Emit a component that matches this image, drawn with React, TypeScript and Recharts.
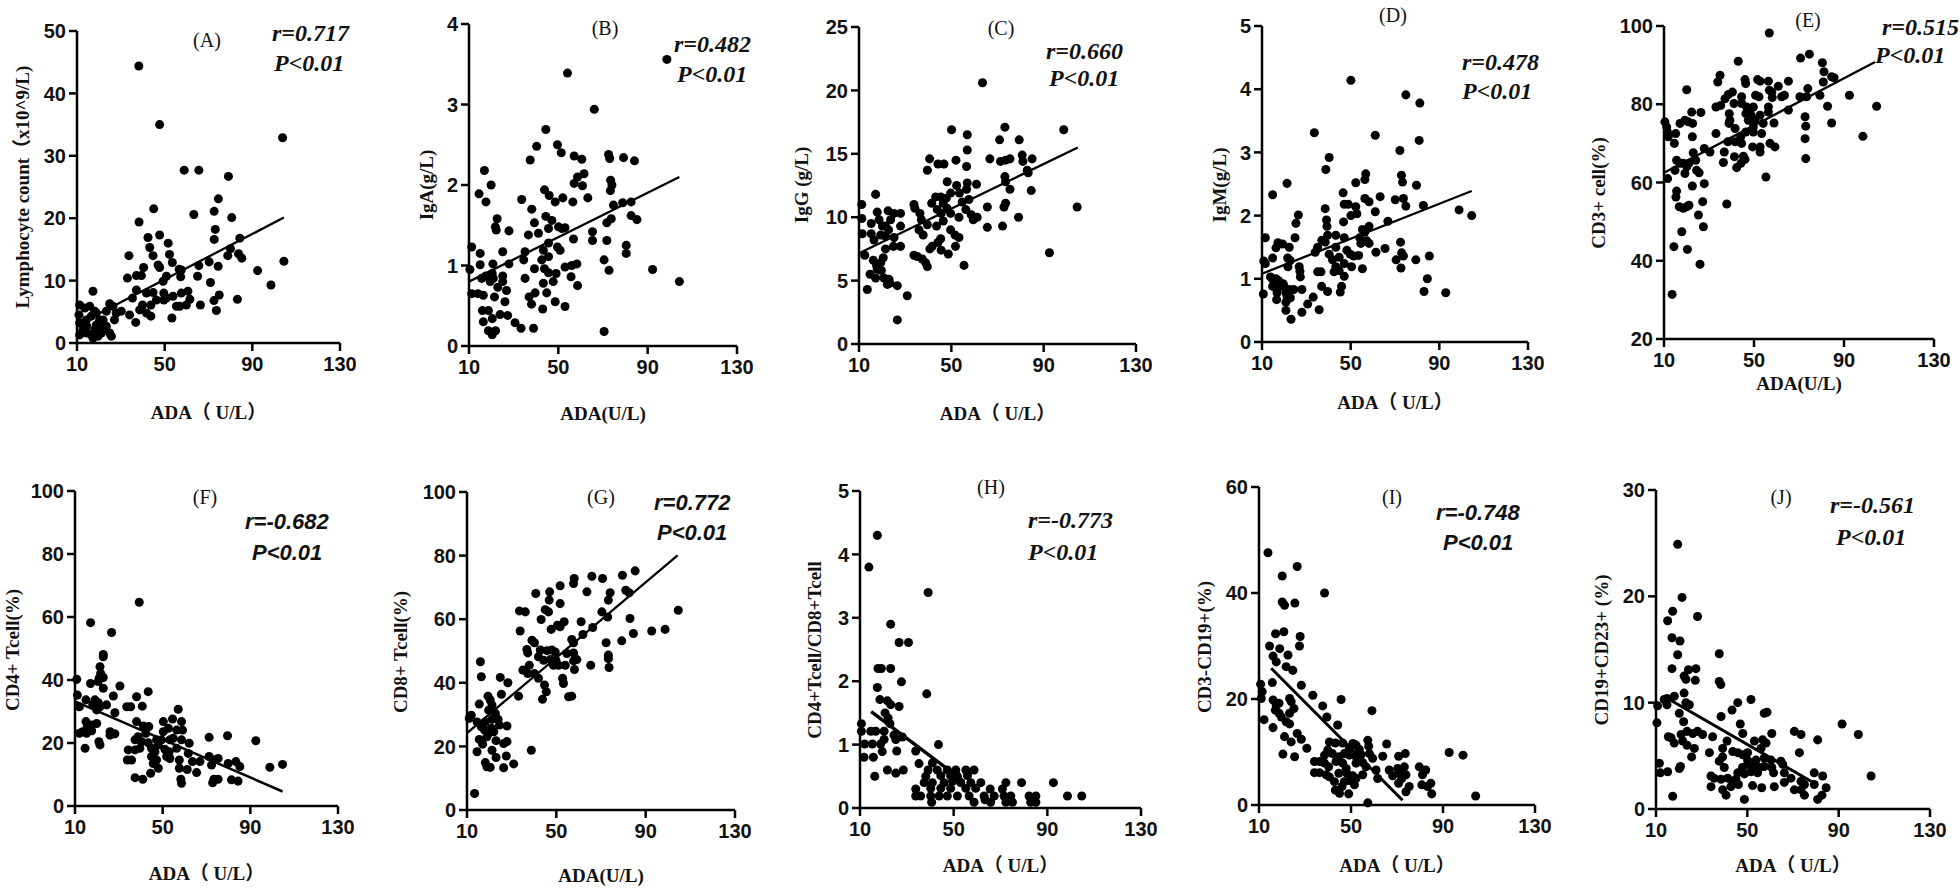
import { ScatterChart, Scatter, XAxis, YAxis, ZAxis, ReferenceLine } from 'recharts';

type Pt = [number, number];

const adaTicks = [10, 50, 90, 130];

// (A) lymphocyte count vs ADA
const lymphocyte: Pt[] = [
  [38.2, 44.4], [47.7, 35], [103.8, 32.9], [58.9, 27.7], [65.6, 27.7], [79.1, 26.7], [74.5, 23.1], [45, 21.5],
  [63.3, 20.6], [72.6, 21.1], [80.6, 20.1], [38.3, 19.4], [73.1, 18.2], [47.7, 17.3], [42.4, 16.9], [72.6, 16.6],
  [84.3, 16.8], [51.6, 16], [43.2, 15.3], [80, 15.1], [33.7, 14], [44.7, 14], [52.2, 14.2], [47, 12.5], [47.7, 12.1],
  [40.4, 12.1], [53.5, 12.9], [56.6, 11.8], [57.3, 10.6], [57.6, 11.7], [65.6, 12.4], [65, 10.7], [74.4, 12.3],
  [70.3, 13], [78.8, 14], [83.7, 14.3], [85.2, 13.6], [92.4, 11.6], [104.4, 13.1], [98.5, 9.3], [70.9, 9.7],
  [74.9, 7.7], [72.5, 6.8], [73.6, 5.2], [83.2, 7], [66.3, 6.1], [61.5, 7], [33, 10.4], [37.1, 10.8], [39.4, 10.8],
  [37.1, 8.5], [35.3, 7.2], [41.7, 8], [44.7, 8.1], [46.2, 6.9], [49.6, 8], [50.8, 7.2], [53.8, 7.5], [57.6, 8],
  [60.6, 8.3], [39.9, 6.1], [43.7, 6.1], [49.6, 6.9], [55.4, 5.9], [56.9, 5.9], [59.9, 6.1], [49.3, 9.9], [50.8, 10.7],
  [34, 4.5], [38.6, 5.3], [41.7, 4.8], [43.7, 4.3], [53.3, 4], [36.8, 3.3], [26.4, 5.9], [27.9, 4.8], [30.2, 5.1],
  [24.9, 6.3], [23.4, 5.1], [27.1, 3.7], [20.3, 3.7], [18.8, 2.9], [21.9, 2.4], [24.9, 1.6], [25.7, 1.1], [17.3, 0.8],
  [11.2, 6.1], [10.9, 4.5], [13.5, 5.6], [15.8, 5.9], [17.3, 8.3], [18.1, 5.1], [14.3, 3.7], [16.5, 4.3], [18.8, 4.8],
  [20.3, 2.4], [12.7, 2.1], [14.3, 1.6], [11.2, 1.3], [14.5, 2.7], [18.1, 2.1], [21.9, 3.7], [23.4, 2.7], [21.1, 1.6],
  [19.6, 1.1], [11.2, 3.2], [16.5, 1.3],
];
const lymphocyteFit: Pt[] = [[10, 2.9], [104.4, 20.1]];
const lymphocyteTicks = [0, 10, 20, 30, 40, 50];

// (B) IgA
const igA: Pt[] = [
  [98.6, 3.56], [54.1, 3.39], [66.1, 2.94], [44.4, 2.69], [40.3, 2.48], [49.6, 2.5], [37.4, 2.31], [51.3, 2.4],
  [57.1, 2.36], [60.5, 2.32], [72.5, 2.38], [73, 2.33], [79.2, 2.34], [84.1, 2.3], [16.9, 2.18], [19.9, 2],
  [14.5, 1.89], [17.6, 1.79], [33.6, 1.82], [43.8, 1.94], [45.9, 1.87], [52, 1.84], [57.1, 2.02], [58.6, 2.1],
  [61.5, 2.14], [60.8, 1.99], [63.2, 1.84], [56.5, 1.79], [73.4, 2.06], [74, 2], [73.3, 1.93], [74.7, 1.75],
  [78.8, 1.78], [82.6, 1.79], [82.6, 1.62], [85.2, 1.57], [73.7, 1.58], [71.7, 1.53], [65.3, 1.42], [65.3, 1.31],
  [71.7, 1.31], [80.4, 1.25], [80.4, 1.15], [70.5, 1.07], [72.7, 0.94], [92.2, 0.95], [104.2, 0.8], [70.5, 0.18],
  [22.6, 1.58], [22.2, 1.44], [21.8, 1.48], [27.9, 1.43], [38.1, 1.7], [39.3, 1.53], [36.6, 1.38], [41.1, 1.4],
  [44.4, 1.61], [45.6, 1.46], [47.1, 1.56], [48.6, 1.79], [50.1, 1.48], [51.6, 1.46], [53, 1.47], [56.8, 1.33],
  [45.6, 1.28], [49.6, 1.23], [50.8, 1.19], [43.3, 1.19], [45.6, 1.11], [42.6, 1.07], [34.5, 1.07], [35.1, 1.17],
  [39.3, 0.96], [35.1, 0.84], [43.8, 0.96], [45.6, 0.91], [49, 0.9], [47.7, 0.8], [43.3, 0.78], [53, 0.98], [56, 1],
  [58.3, 1.02], [55.7, 0.86], [58.6, 0.75], [36.9, 0.61], [39.6, 0.66], [38, 0.52], [44.8, 0.66], [43, 0.46],
  [48.6, 0.55], [53, 0.49], [38.9, 0.22], [33.3, 0.22], [30.6, 0.29], [27.3, 0.38], [23.9, 0.39], [26.1, 0.55],
  [26.8, 0.69], [25.1, 0.8], [25.1, 0.87], [25.1, 1.17], [27.9, 1.02], [11.2, 1.23], [10.4, 0.95], [11.2, 0.65],
  [14, 0.65], [15, 1.15], [15, 1.01], [15.7, 0.84], [17.5, 0.87], [20.7, 1.02], [20.4, 0.9], [19.5, 0.8], [16.4, 0.63],
  [21.4, 0.61], [16, 0.44], [18.7, 0.44], [16.4, 0.3], [20.4, 0.34], [21.9, 0.19], [20.4, 0.14], [18.7, 0.19],
  [22.9, 0.73], [20.9, 0.84],
];
const igAFit: Pt[] = [[10, 0.8], [104.2, 2.1]];
const igATicks = [0, 1, 2, 3, 4];

// (C) IgG
const igG: Pt[] = [
  [63.5, 20.6], [98.7, 16.9], [50.1, 16.9], [56.9, 16.5], [73.2, 17.1], [70.9, 16.1], [79.4, 16.1], [56.9, 15.3],
  [40.6, 14.6], [39.6, 13.7], [44.2, 14.2], [46.8, 14.2], [52, 14.5], [56.6, 14], [66.7, 14.6], [71.3, 14.4],
  [73.5, 14.5], [75.4, 14.6], [80.7, 14.9], [81, 14.4], [85, 14.6], [82.9, 13.7], [83.3, 13.5], [73.2, 13.2],
  [73.5, 12.8], [75.4, 12.2], [84.6, 12.1], [56.9, 12.7], [60.9, 12.6], [56.6, 12.2], [48.2, 12.8], [52.3, 12.5],
  [53.5, 11.9], [49.7, 11.9], [54.7, 11.2], [57.6, 11.4], [47.8, 11.5], [45.4, 11.6], [43.2, 11.6], [41.5, 11.1],
  [46.5, 11.1], [48.2, 10.7], [43.9, 10.6], [45.6, 10.3], [49.7, 10.3], [53.3, 10], [56.3, 10.6], [58.6, 10.2],
  [59.5, 9.8], [61.2, 10], [65.6, 10.8], [72.8, 10.8], [73.5, 11.1], [79.1, 10], [65.6, 9.2], [72.2, 9.3],
  [92.5, 7.2], [104.5, 10.8], [46.5, 9.7], [49.7, 9], [43.6, 9.3], [39.6, 9.4], [37, 9.8], [36.4, 10.3], [33.8, 11],
  [34.2, 10.7], [36, 9], [37.8, 8.6], [51.6, 8.6], [53.3, 8.4], [51.8, 7.7], [45.4, 8.3], [44.2, 8], [41.7, 7.7],
  [40.7, 7.5], [45.6, 7.4], [48.7, 7.1], [55.5, 6.2], [33.8, 7], [35.2, 6.9], [37.4, 6.7], [38.9, 6.4], [39.6, 6.1],
  [28, 7.7], [24.9, 7.7], [25.2, 8.4], [28, 9.3], [25.2, 10.3], [28, 10.3], [22.6, 10.5], [23.7, 9.8], [21.5, 9.3],
  [22.8, 9], [20.1, 9.3], [18.7, 9.8], [17.9, 10.4], [17.2, 11.8], [15.3, 9.5], [15.3, 8.7], [16.5, 8.2], [19.4, 8.6],
  [21.5, 8.5], [11.2, 11], [11.2, 9.9], [11.4, 8.7], [12.5, 7], [14.8, 5.5], [13.6, 4.3], [17.2, 5.2], [16.2, 6.6],
  [17.6, 6.2], [19.4, 6.4], [20.5, 6.8], [19.7, 5.8], [17.9, 5.9], [20.8, 5.2], [23, 5.1], [23.4, 4.8], [22.3, 4.7],
  [26.6, 4.6], [30.9, 3.8], [26.6, 1.9], [21.5, 7.5],
];
const igGFit: Pt[] = [[10, 7.15], [104.8, 15.5]];
const igGTicks = [0, 5, 10, 15, 20, 25];

// (D) IgM
const igM: Pt[] = [
  [50.1, 4.14], [74.9, 3.91], [81.2, 3.78], [33.6, 3.31], [61.1, 3.27], [80.9, 3.19], [72.2, 3.03], [40.3, 2.92],
  [38.8, 2.73], [56.8, 2.66], [72.9, 2.64], [73.4, 2.53], [52.3, 2.52], [56.4, 2.57], [79.7, 2.48], [21.3, 2.51],
  [14.8, 2.33], [46.6, 2.36], [63.3, 2.3], [56.4, 2.27], [58.3, 2.22], [70.1, 2.25], [73.8, 2.27], [74.9, 2.15],
  [82.8, 2.16], [47.1, 2.18], [48.9, 2.18], [52.3, 2.14], [38.5, 2.11], [26.4, 2.01], [50.1, 2], [52.8, 2.03],
  [61.1, 2.06], [98.9, 2.09], [104.6, 2], [39.1, 1.93], [39.3, 1.83], [46.8, 1.9], [66.8, 1.91], [25.3, 1.88],
  [58.3, 1.83], [55.3, 1.78], [56.4, 1.74], [54.1, 1.65], [24.9, 1.65], [11.5, 1.65], [39.6, 1.69], [43.3, 1.69],
  [47.1, 1.65], [57.3, 1.6], [58.3, 1.56], [54.6, 1.56], [72.5, 1.58], [37, 1.61], [38.5, 1.58], [17.2, 1.57],
  [19.3, 1.55], [16.3, 1.49], [22.3, 1.5], [35.1, 1.5], [34, 1.42], [40.3, 1.39], [43.3, 1.5], [44.8, 1.34],
  [48.3, 1.45], [49.8, 1.39], [51.4, 1.36], [53.6, 1.37], [61.4, 1.42], [65.5, 1.48], [73, 1.41], [73.8, 1.36],
  [70.5, 1.3], [79.4, 1.3], [85.5, 1.36], [72.7, 1.17], [55.3, 1.16], [41.8, 1.3], [43.3, 1.19], [44.8, 1.13],
  [47.1, 1.24], [47.1, 1.04], [50.4, 1.19], [42.5, 1.11], [10.8, 1.28], [11.5, 1.24], [14.8, 1.33], [21.6, 1.33],
  [22.7, 1.29], [21.7, 1.19], [26.8, 1.19], [27.1, 1.12], [27.3, 1.03], [35.1, 1.11], [36.6, 1.11], [13.8, 1.03],
  [14.8, 0.99], [16.3, 1], [17.5, 0.97], [15.6, 0.92], [14.8, 0.88], [17.1, 0.86], [19.6, 0.92], [20.1, 0.87],
  [16.8, 0.78], [16.6, 0.67], [20.8, 0.78], [22.3, 0.83], [24.3, 0.83], [22.8, 0.7], [20.8, 0.63], [21.3, 0.72],
  [20.8, 0.5], [23.1, 0.36], [28, 0.83], [28, 0.47], [30.6, 0.6], [33.1, 0.71], [35.8, 0.51], [36.9, 0.88],
  [39.6, 0.8], [45.3, 0.79], [45.9, 0.88], [10.6, 0.76], [83.1, 0.8], [84.6, 1], [92.9, 0.78],
];
const igMFit: Pt[] = [[10, 1.08], [104.6, 2.39]];
const igMTicks = [0, 1, 2, 3, 4, 5];

// (E) CD3+ cell
const cd3: Pt[] = [
  [56.8, 98.2], [74.6, 92.8], [43, 91], [70.7, 91.8], [80.4, 90.6], [81.1, 88.3], [34.9, 87.4], [33.9, 85.7],
  [84.5, 87], [85.6, 86.8], [80.8, 85.7], [46, 86.3], [46.3, 85.3], [51.6, 86.3], [52.7, 85.9], [56.4, 85.9],
  [65.3, 85.9], [60.8, 84.6], [56.8, 83.6], [20.1, 83.7], [40.4, 83.1], [38.6, 82.5], [37.1, 81.4], [44.5, 81.9],
  [50.7, 82.3], [52.2, 81.9], [57.9, 83.1], [58.1, 81.7], [62.3, 81.9], [63.5, 82.3], [73.9, 84], [73.4, 81.9],
  [70.4, 81.9], [79.3, 82.3], [33.1, 79.3], [35.2, 79.7], [41.1, 80.2], [44.5, 80.2], [46.7, 79.3], [49.7, 79.3],
  [56.4, 79.3], [65.3, 78.5], [82.7, 79.5], [104.5, 79.5], [92.4, 82.3], [48.2, 78.5], [46.4, 77.6], [48.7, 77.2],
  [52.7, 77.2], [56.4, 78], [39, 77.6], [39.3, 75.9], [38.9, 75.1], [47.5, 75.9], [50.4, 75.9], [49.7, 74.2],
  [54.1, 75.1], [58.9, 75.2], [72.7, 76.8], [73, 74.4], [72.7, 71.2], [73, 66.1], [84.5, 75.2], [98.4, 71.8],
  [46.4, 72.9], [49.7, 72.9], [53.4, 72.5], [41.6, 73.8], [44.1, 71.7], [44.5, 70], [41.6, 70.4], [38.4, 70.4],
  [33.1, 72.5], [49.4, 69.1], [52.7, 67.8], [52.7, 69.1], [57.1, 70], [59.3, 69.1], [36.8, 67.8], [36.4, 65.1],
  [41.3, 66.6], [45.3, 66.7], [46, 65.9], [44.2, 64.9], [42.3, 63.8], [55.3, 61.4], [37.9, 54.5], [10.4, 75.5],
  [11.2, 74.2], [11.9, 71.7], [11.5, 73], [11.6, 61], [15.2, 72.5], [14.6, 70], [17.1, 75.1], [19.3, 75.9],
  [20.8, 75.5], [22.3, 78], [22.7, 75.1], [22.6, 71.7], [26.4, 77.9], [15.6, 65.7], [17.1, 64.9], [14.9, 63.1],
  [18.6, 64.9], [20.1, 64], [19.3, 62.3], [21.1, 64.9], [23, 67.6], [24.1, 65.7], [24.5, 63.1], [25.6, 62.5],
  [27.9, 68.7], [30.4, 67.8], [22.6, 59.1], [27.9, 59.7], [15.6, 57.8], [15.3, 56.3], [16.8, 53.8], [18.6, 53.4],
  [20.1, 53.8], [21.1, 54.2], [25.3, 51.7], [27.2, 55.1], [27.5, 48.7], [17.9, 47.4], [14.4, 43.6], [20.4, 42.9],
  [26, 39.1], [13.6, 31.4],
];
const cd3Fit: Pt[] = [[10, 62.5], [103.8, 90.8]];
const cd3Ticks = [20, 40, 60, 80, 100];

// (F) CD4+ T cell
const cd4: Pt[] = [
  [39.3, 64.7], [17.1, 58.2], [26.7, 55.1], [22.9, 48.1], [22.9, 47.4], [21.4, 44.2], [21.7, 42.1], [21, 40.5],
  [22.9, 40.8], [20.6, 39.5], [10.8, 40.2], [17.1, 38.9], [22.9, 37.4], [30.5, 38.1], [43.4, 36.3], [38.1, 34.7],
  [27.5, 34.9], [11.1, 35.2], [12, 31.5], [15, 33.7], [19.1, 33.7], [20.6, 32.8], [21.4, 31.5], [24.4, 32.1],
  [18.1, 32.1], [19.9, 30.5], [28.2, 29.6], [33.6, 31.5], [35.4, 31.5], [40.7, 31.7], [15, 26.8], [15.6, 25.2],
  [17.6, 25.7], [13.5, 23.6], [12, 23.1], [15.3, 23.1], [17.6, 23.9], [19.9, 26.2], [26, 23.6], [26, 22.5],
  [28.2, 22.9], [14.6, 18.3], [20.9, 20.4], [21.4, 19.4], [38.1, 26.8], [41.2, 25.4], [43.7, 25.2], [38.8, 22],
  [37.4, 21], [40.4, 20.4], [42.3, 23.1], [34.3, 17.8], [33.9, 14.6], [35.8, 14.6], [37.4, 17.8], [39.6, 18.3],
  [43.4, 20.1], [44.9, 18.3], [47.2, 21], [48, 19.4], [49.5, 21], [50.3, 23.6], [50.3, 26.8], [51, 18], [53.3, 21],
  [54.8, 21.5], [52.6, 24.7], [54.5, 27.6], [56.4, 24.1], [57.1, 30.7], [58.6, 26.8], [59.1, 24.1], [58.6, 21],
  [56.4, 18.3], [53, 17.2], [46.5, 17.2], [44.9, 15.7], [47.2, 14.6], [45.7, 13.5], [48, 12], [44.5, 10.4],
  [37.4, 9], [40.9, 8.5], [57.6, 12], [57.6, 14.6], [61.2, 11.6], [61.7, 16.7], [62.1, 19.9], [58.3, 8.5],
  [58.6, 7.2], [63.6, 14.1], [65.5, 10.6], [67, 14.1], [71.2, 21.8], [71.2, 15.7], [73.1, 14.6], [72.3, 13],
  [75.3, 15.1], [73.4, 8.5], [72.8, 7.4], [75.3, 8.5], [79.6, 22.3], [79.9, 13.5], [83.4, 14.1], [85.2, 12.5],
  [81.4, 8.3], [84.4, 7.9], [92.5, 20.7], [98.9, 12.3], [104.7, 13.2], [51.8, 15.7], [53.3, 15.1],
];
const cd4Fit: Pt[] = [[10, 33.2], [104.7, 4.6]];
const percentTicks = [0, 20, 40, 60, 80, 100];

// (G) CD8+ T cell
const cd8: Pt[] = [
  [85.3, 75.2], [79.6, 73.8], [65.9, 73.5], [70.7, 72.8], [58, 72.8], [57.7, 71.2], [51.7, 70.5], [40.8, 68.1],
  [47, 68.6], [63.7, 68.6], [74.1, 68.3], [81.1, 69.1], [82.6, 68.3], [73.3, 66], [46.8, 66], [51.7, 64.9],
  [45, 63], [46.5, 62.3], [70.4, 62.3], [73, 60.7], [33.5, 62.6], [36.1, 62.3], [43.2, 59.9], [61.1, 59.2],
  [53.5, 59.2], [50.5, 58.1], [47.7, 56.8], [51.7, 57.6], [33.8, 56.3], [61.9, 55.2], [83, 60.2], [104.6, 62.8],
  [92.7, 56.3], [98.7, 56.8], [84.5, 55.5], [79.3, 53.2], [72.3, 52.6], [66.3, 57.4], [56.9, 53.6], [57.7, 52.6],
  [39.1, 53.4], [40.2, 52.6], [36.8, 50.5], [37.2, 49.4], [42.8, 50.3], [45.8, 50.1], [48, 50.3], [49.5, 49.7],
  [54.7, 49.2], [57.7, 49.4], [42, 48.2], [44.3, 47.1], [47.3, 47.3], [49.8, 47.1], [51, 45.5], [48.7, 45.5],
  [54, 45.5], [57.7, 46.9], [59.2, 47.3], [58.1, 44.2], [65.4, 45.5], [73.3, 48.7], [73.3, 47.6], [73.6, 44.8],
  [35, 44], [37.9, 45.5], [37.2, 42.9], [40.2, 42.9], [42, 41.4], [44.7, 39.3], [45.5, 37.2], [43.8, 34.8],
  [52.8, 41.4], [53.2, 39.8], [55.5, 35.6], [56.9, 35.8], [33.1, 35.8], [28.3, 40], [24.9, 41.7], [25.4, 36.4],
  [16, 46.6], [16.4, 41.9], [15.5, 33.3], [19.4, 35.8], [20.4, 34.6], [21.2, 33], [19.7, 31.4], [22.7, 30.4],
  [11.9, 29.8], [11, 28.8], [14.5, 27.7], [18.2, 27.7], [21.2, 28.5], [23.9, 28.5], [24.5, 26.7], [27.9, 26.4],
  [16.4, 26.2], [17.9, 25.1], [20.9, 25.7], [22, 24.6], [19.7, 24.1], [18.9, 23], [15.5, 22.2], [17, 20.7],
  [23, 21.8], [26.4, 20.9], [27.9, 21.5], [21.2, 18.8], [14.5, 18.3], [38.8, 18.8], [23, 16.5], [27.6, 17],
  [30.9, 14.5], [18.2, 14.9], [18.9, 13.6], [20.4, 13.4], [26.4, 13.3], [13.4, 5.2],
];
const cd8Fit: Pt[] = [[10, 24.2], [104.3, 80.1]];

// (H) CD4+/CD8+ ratio
const ratio: Pt[] = [
  [17.4, 4.3], [13.8, 3.8], [39.1, 3.4], [23.1, 2.9], [26.7, 2.61], [30.7, 2.61], [27.7, 1.99], [38.5, 1.8],
  [17.7, 2.2], [19.1, 2.2], [23.1, 2.2], [17.4, 1.9], [18.5, 1.71], [21.7, 1.69], [23.1, 1.63], [26.7, 1.6],
  [20.7, 1.5], [22, 1.42], [22.8, 1.33], [20.3, 1.21], [16.7, 1.21], [14.6, 1.21], [10.6, 1.33], [10.6, 1.21],
  [12, 1.01], [11.7, 0.8], [15.3, 1.01], [15.7, 0.8], [18.8, 1.01], [19.5, 0.89], [20.3, 1.08], [24.5, 1.15],
  [25.7, 0.9], [28.1, 1.12], [25.3, 1.08], [21.7, 0.6], [25.3, 0.55], [28.5, 0.6], [16.3, 0.5], [33.8, 0.9],
  [43.5, 1], [35.2, 0.7], [40.9, 0.71], [39.1, 0.6], [43, 0.6], [47.3, 0.6], [50.9, 0.6], [55.2, 0.6], [58.7, 0.6],
  [44.5, 0.51], [48.7, 0.51], [51.6, 0.5], [55.9, 0.51], [38.1, 0.5], [37.4, 0.4], [40.9, 0.4], [45.9, 0.4],
  [49.5, 0.42], [53, 0.4], [57.3, 0.4], [61.6, 0.4], [72.3, 0.4], [79, 0.4], [92.6, 0.4], [40.2, 0.31], [44.5, 0.31],
  [48.7, 0.31], [55.2, 0.31], [59.4, 0.31], [65.6, 0.3], [70.8, 0.3], [33.8, 0.3], [33.8, 0.19], [35.9, 0.19],
  [40.2, 0.19], [43.8, 0.19], [47.3, 0.19], [51.6, 0.19], [56.6, 0.19], [63, 0.19], [67.3, 0.19], [71.5, 0.19],
  [74.4, 0.19], [82.2, 0.19], [85.1, 0.19], [98.6, 0.19], [104.7, 0.19], [40.6, 0.09], [58.7, 0.09], [65.8, 0.09],
  [72.3, 0.09], [75.1, 0.09], [82.9, 0.09], [85.1, 0.09], [63.4, 0.13],
];
const ratioFit: Pt[] = [[14.8, 1.52], [54.4, 0.42]];
const ratioTicks = [0, 1, 2, 3, 4, 5];

// (I) CD3-CD19+
const cd19: Pt[] = [
  [13.9, 47.6], [26.6, 45], [20.1, 43.2], [38.5, 40], [20.1, 38.3], [21.1, 37.7], [25.6, 38.1], [17.2, 32.3],
  [20.8, 32.7], [27.9, 31.8], [27.6, 30], [14.6, 30], [19, 29.5], [16.1, 28.1], [22.6, 28.3], [21.8, 26.1],
  [17.5, 27], [24.7, 25.4], [15.8, 23.1], [28.4, 22.6], [10.7, 22.8], [11.4, 21.4], [11, 20.1], [16.1, 19.8],
  [18.7, 19.2], [17.5, 18.8], [23.3, 20.1], [24, 19.5], [33.4, 20.7], [45.7, 19.9], [59.1, 17.8], [17.1, 17.9],
  [23.3, 17.3], [25.2, 18.2], [18.7, 17.3], [12.2, 16.1], [19.7, 16.6], [21.8, 15.7], [23.3, 15.3], [37.7, 18.7],
  [39.5, 16.6], [44.2, 15.1], [16.1, 14.6], [26.6, 13.5], [28.4, 12.4], [30.8, 10.7], [21.1, 12.9], [24, 11.9],
  [25.5, 9.1], [20.4, 9.6], [40.6, 11.9], [43.2, 11.7], [46.4, 11.7], [50.8, 11.6], [52.2, 11.3], [57.3, 12.2],
  [57.7, 11.1], [65.5, 11.5], [49.3, 10.7], [53.6, 10.5], [39.9, 10.4], [38.5, 9.4], [41.9, 9.7], [44.8, 9.1],
  [47.1, 9.7], [49.3, 9.4], [52.2, 9.1], [54.4, 9.5], [58, 9.7], [59.4, 8.8], [63.8, 9.2], [70.7, 9.2], [73.6, 9.7],
  [92.7, 9.9], [98.7, 9.4], [34.1, 8.2], [36.3, 8.2], [38.5, 7.9], [40.3, 7.2], [43.5, 8.2], [46.4, 7.9], [47.9, 6.9],
  [52.2, 7.9], [55.1, 8], [56.5, 7.2], [60.9, 6.6], [66.6, 6.6], [70.3, 6.9], [73.2, 7.2], [34.1, 6.1], [36.3, 6.1],
  [39.2, 5.7], [40.6, 5.3], [44.7, 6], [48.2, 6], [50.8, 5.5], [55.1, 5.7], [61.6, 5], [68.1, 5.5], [71, 6],
  [72.1, 5], [73.9, 5.7], [79.7, 7.2], [82.5, 6.6], [81.1, 5.7], [80.8, 3.8], [83.3, 3.5], [84.7, 4.1], [85.1, 2.1],
  [42.8, 4.4], [47.1, 4.4], [49.3, 4.6], [52.2, 5], [43.2, 2.8], [45, 2.2], [49, 2.1], [51.5, 3.8], [46.1, 3.5],
  [70.7, 4.1], [73.9, 2.5], [75.3, 3.5], [57.3, 0.4], [104.2, 1.7],
];
const cd19Fit: Pt[] = [[15.3, 25.8], [72.4, 0.9]];
const cd19Ticks = [0, 20, 40, 60];

// (J) CD19+CD23+
const cd23: Pt[] = [
  [19.5, 24.9], [21.4, 19.9], [17.3, 18.6], [15.1, 17.7], [28.2, 18.1], [17, 16.1], [20.5, 15.8], [19.5, 14.5],
  [37.7, 14.6], [17, 13.2], [24.2, 13.1], [27.5, 13.2], [22.3, 12.5], [23.1, 12.2], [27.2, 12.1], [37.7, 12],
  [38.4, 11.7], [22.3, 10.9], [18, 10.6], [14.8, 10.4], [13.6, 10.3], [51.6, 10.3], [10.7, 9.7], [14.8, 9.8],
  [23.1, 10], [24.6, 9.8], [20.2, 9], [45.8, 10], [57.4, 9], [58.6, 9.1], [43.3, 9.3], [38.5, 8.7], [22.1, 8.2],
  [10.4, 8.1], [46.9, 8], [91.5, 8], [15.4, 6.8], [16.6, 6.7], [21, 7], [23.6, 7.3], [26.1, 7.1], [28.2, 7.3],
  [30.4, 7], [34.8, 6.8], [48, 7.1], [60.7, 7.1], [70.6, 7.3], [73.5, 7], [98.6, 7], [80.8, 6.5], [21.7, 6.4],
  [23.6, 6], [26.8, 5.7], [18, 6.2], [41.1, 6.4], [53.1, 6.4], [56.7, 6.5], [58.2, 6.2], [56, 5.7], [39.2, 5.7],
  [43.6, 5.4], [45.8, 5.3], [48, 5.1], [50.1, 5.3], [39.2, 4.9], [33.4, 5.3], [25.6, 4.9], [37.7, 4.5], [50.1, 4.6],
  [53.8, 4.6], [57.4, 4.8], [60.4, 4.6], [64.7, 4.5], [65.5, 4.2], [72.8, 5.3], [11.5, 4.3], [11.9, 3.4],
  [15.1, 3.5], [20.2, 3.8], [20.7, 4], [39.9, 3.9], [47.9, 3.9], [50.1, 4.2], [52.3, 4], [55.3, 3.9], [57.4, 4],
  [60.7, 3.9], [45.8, 3.4], [48.7, 3.3], [51.6, 3.5], [54.5, 3.4], [61.5, 3.4], [66.2, 3.4], [79.3, 3.4],
  [104.2, 3.1], [34.1, 3.1], [35.5, 2.9], [38.5, 2.8], [41.4, 2.9], [43.6, 2.6], [45, 2.8], [66.2, 2.5], [69.1, 2.9],
  [73.5, 2.6], [83, 3.1], [34.1, 2.1], [39.2, 1.8], [42.8, 2.1], [46.1, 2.3], [52.3, 2.2], [56.3, 2], [61.8, 2.1],
  [70.6, 1.8], [73.5, 1.8], [75, 1.3], [75, 2.3], [79.3, 2.3], [84.5, 2], [82.7, 1.3], [80.8, 0.9], [17.3, 1.2],
  [40.7, 1.3], [48.7, 0.9],
];
const cd23Fit: Pt[] = [[13.4, 10.6], [79.6, 2.4]];
const cd23Ticks = [0, 10, 20, 30];

const SERIF = "'Liberation Serif', 'Times New Roman', 'Noto Sans CJK SC', serif";
const SANS = "'Liberation Sans', Arial, sans-serif";

const panels = [
  { key: 'A', data: lymphocyte, fit: lymphocyteFit, yTicks: lymphocyteTicks, rect: [77, 340, 31, 343], lineW: 2.3,
    yTitle: 'Lymphocyte count（x10^9/L)', yTitlePos: [22, 187], xTitle: 'ADA（ U/L）', xTitleY: 412,
    letterPos: [207, 40], r: 'r=0.717', rPos: [272, 33], pPos: [274, 63], annFont: 'serif' },
  { key: 'B', data: igA, fit: igAFit, yTicks: igATicks, rect: [469, 737, 24, 346], lineW: 2.3,
    yTitle: 'IgA(g/L)', yTitlePos: [426, 185], xTitle: 'ADA(U/L)', xTitleY: 413,
    letterPos: [605, 28], r: 'r=0.482', rPos: [674, 44], pPos: [677, 74], annFont: 'serif' },
  { key: 'C', data: igG, fit: igGFit, yTicks: igGTicks, rect: [859, 1136, 27, 344], lineW: 2.3,
    yTitle: 'IgG (g/L)', yTitlePos: [801, 185], xTitle: 'ADA（ U/L）', xTitleY: 413,
    letterPos: [1001, 28], r: 'r=0.660', rPos: [1046, 51], pPos: [1049, 78], annFont: 'serif' },
  { key: 'D', data: igM, fit: igMFit, yTicks: igMTicks, rect: [1262, 1528, 26, 342], lineW: 2.3,
    yTitle: 'IgM(g/L)', yTitlePos: [1219, 185], xTitle: 'ADA（ U/L）', xTitleY: 402,
    letterPos: [1393, 15], r: 'r=0.478', rPos: [1462, 62], pPos: [1462, 91], annFont: 'serif' },
  { key: 'E', data: cd3, fit: cd3Fit, yTicks: cd3Ticks, rect: [1664, 1934, 26, 339], lineW: 2.3,
    yTitle: 'CD3+ cell(%)', yTitlePos: [1598, 193], xTitle: 'ADA(U/L)', xTitleY: 383,
    letterPos: [1808, 20], r: 'r=0.515', rPos: [1882, 27], pPos: [1875, 55], annFont: 'serif' },
  { key: 'F', data: cd4, fit: cd4Fit, yTicks: percentTicks, rect: [75, 338, 491, 806], lineW: 2.5,
    yTitle: 'CD4+ Tcell(%)', yTitlePos: [12, 650], xTitle: 'ADA（ U/L）', xTitleY: 873,
    letterPos: [205, 497], r: 'r=-0.682', rPos: [245, 522], pPos: [252, 553], annFont: 'sans' },
  { key: 'G', data: cd8, fit: cd8Fit, yTicks: percentTicks, rect: [467, 735, 492, 810], lineW: 2.3,
    yTitle: 'CD8+ Tcell(%)', yTitlePos: [400, 652], xTitle: 'ADA(U/L)', xTitleY: 875,
    letterPos: [601, 497], r: 'r=0.772', rPos: [654, 503], pPos: [657, 533], annFont: 'sans' },
  { key: 'H', data: ratio, fit: ratioFit, yTicks: ratioTicks, rect: [860, 1141, 491, 808], lineW: 3.4,
    yTitle: 'CD4+Tcell/CD8+Tcell', yTitlePos: [814, 650], xTitle: 'ADA（ U/L）', xTitleY: 865,
    letterPos: [991, 487], r: 'r=-0.773', rPos: [1028, 520], pPos: [1028, 552], annFont: 'serif' },
  { key: 'I', data: cd19, fit: cd19Fit, yTicks: cd19Ticks, rect: [1259, 1535, 487, 805], lineW: 3,
    yTitle: 'CD3-CD19+(%)', yTitlePos: [1204, 647], xTitle: 'ADA（ U/L）', xTitleY: 865,
    letterPos: [1392, 497], r: 'r=-0.748', rPos: [1436, 513], pPos: [1443, 543], annFont: 'sans' },
  { key: 'J', data: cd23, fit: cd23Fit, yTicks: cd23Ticks, rect: [1656, 1930, 490, 809], lineW: 3,
    yTitle: 'CD19+CD23+ (%)', yTitlePos: [1601, 650], xTitle: 'ADA（ U/L）', xTitleY: 865,
    letterPos: [1781, 497], r: 'r=-0.561', rPos: [1830, 505], pPos: [1836, 537], annFont: 'serif' },
];

const Y_W = 52;
const M_TOP = 12;
const M_RIGHT = 16;
const X_H = 44;

const axisStroke = { stroke: '#000', strokeWidth: 2.5 };
const tickStyle = { fill: '#111', fontSize: 20, fontFamily: SANS, fontWeight: 700 };

function Panel({ p }: { p: (typeof panels)[number] }) {
  const [l, r, t, b] = p.rect;
  const plotW = r - l;
  const plotH = b - t;
  const pts = p.data.map(([x, y]) => ({ x, y }));
  const annStyle = {
    position: 'absolute' as const,
    fontFamily: p.annFont === 'sans' ? SANS : SERIF,
    fontStyle: 'italic',
    fontWeight: 700,
    fontSize: p.annFont === 'sans' ? 22 : 24,
    lineHeight: 1,
    transform: 'translateY(-50%)',
    whiteSpace: 'nowrap' as const,
    color: '#111',
  };
  return (
    <>
      <div style={{ position: 'absolute', left: l - Y_W, top: t - M_TOP }}>
        <ScatterChart
          width={Y_W + plotW + M_RIGHT}
          height={M_TOP + plotH + X_H}
          margin={{ top: M_TOP, right: M_RIGHT, bottom: 0, left: 0 }}
        >
          <XAxis
            type="number"
            dataKey="x"
            domain={[10, 130]}
            ticks={adaTicks}
            height={X_H}
            axisLine={axisStroke}
            tickLine={axisStroke}
            tickSize={8}
            tickMargin={6}
            tick={tickStyle}
          />
          <YAxis
            type="number"
            dataKey="y"
            domain={[p.yTicks[0], p.yTicks[p.yTicks.length - 1]]}
            ticks={p.yTicks}
            width={Y_W}
            axisLine={axisStroke}
            tickLine={axisStroke}
            tickSize={8}
            tickMargin={3}
            tick={tickStyle}
          />
          <ZAxis range={[42, 42]} />
          <Scatter data={pts} fill="#000" isAnimationActive={false} />
          <ReferenceLine
            segment={[{ x: p.fit[0][0], y: p.fit[0][1] }, { x: p.fit[1][0], y: p.fit[1][1] }]}
            stroke="#000"
            strokeWidth={p.lineW}
            ifOverflow="visible"
          />
        </ScatterChart>
      </div>
      <div
        style={{
          position: 'absolute', left: p.yTitlePos[0], top: p.yTitlePos[1],
          transform: 'translate(-50%, -50%) rotate(-90deg)', whiteSpace: 'nowrap',
          fontFamily: SERIF, fontWeight: 700, fontSize: 19, color: '#111', lineHeight: 1,
        }}
      >
        {p.yTitle}
      </div>
      <div
        style={{
          position: 'absolute', left: (l + r) / 2, top: p.xTitleY,
          transform: 'translate(-50%, -50%)', whiteSpace: 'nowrap',
          fontFamily: SERIF, fontWeight: 700, fontSize: 19, color: '#111', lineHeight: 1,
        }}
      >
        {p.xTitle}
      </div>
      <div
        style={{
          position: 'absolute', left: p.letterPos[0], top: p.letterPos[1],
          transform: 'translate(-50%, -50%)', whiteSpace: 'nowrap',
          fontFamily: SERIF, fontSize: 20, color: '#111', lineHeight: 1,
        }}
      >
        ({p.key})
      </div>
      <div style={{ ...annStyle, left: p.rPos[0], top: p.rPos[1] }}>{p.r}</div>
      <div style={{ ...annStyle, left: p.pPos[0], top: p.pPos[1] }}>P&lt;0.01</div>
    </>
  );
}

export default function App() {
  return (
    <div style={{ position: 'absolute', left: 0, top: 0, width: 1960, height: 892, background: '#fff', overflow: 'hidden' }}>
      {panels.map((p) => (
        <Panel key={p.key} p={p} />
      ))}
    </div>
  );
}
